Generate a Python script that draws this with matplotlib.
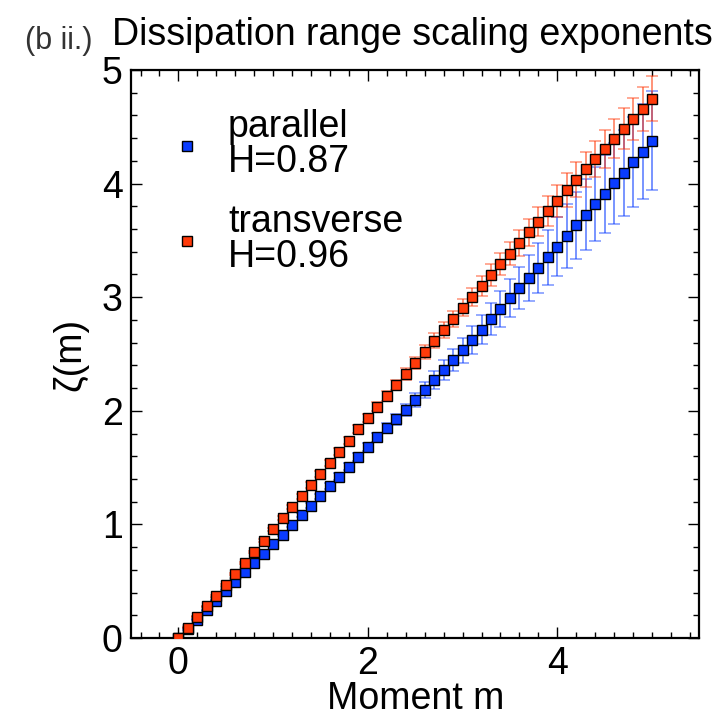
import matplotlib
matplotlib.use('Agg')
import matplotlib.pyplot as plt
from matplotlib.ticker import MultipleLocator

plt.rcParams['font.family'] = ['Liberation Sans', 'DejaVu Sans']

# moments m = 0.0 ... 5.0
moment = [0.0, 0.1, 0.2, 0.3, 0.4, 0.5, 0.6, 0.7, 0.8, 0.9,
          1.0, 1.1, 1.2, 1.3, 1.4, 1.5, 1.6, 1.7, 1.8, 1.9,
          2.0, 2.1, 2.2, 2.3, 2.4, 2.5, 2.6, 2.7, 2.8, 2.9,
          3.0, 3.1, 3.2, 3.3, 3.4, 3.5, 3.6, 3.7, 3.8, 3.9,
          4.0, 4.1, 4.2, 4.3, 4.4, 4.5, 4.6, 4.7, 4.8, 4.9, 5.0]

zeta_par = [0.000, 0.080, 0.160, 0.245, 0.330, 0.413, 0.496, 0.578, 0.660, 0.742,
            0.825, 0.910, 0.995, 1.080, 1.165, 1.250, 1.336, 1.422, 1.508, 1.596,
            1.684, 1.766, 1.846, 1.926, 2.008, 2.095, 2.183, 2.271, 2.359, 2.447,
            2.535, 2.624, 2.714, 2.805, 2.897, 2.990, 3.080, 3.170, 3.260, 3.351,
            3.445, 3.539, 3.633, 3.726, 3.820, 3.908, 4.003, 4.096, 4.190, 4.281, 4.378]
err_par = [0.000, 0.005, 0.005, 0.006, 0.007, 0.008, 0.009, 0.010, 0.011, 0.012,
           0.013, 0.014, 0.016, 0.018, 0.020, 0.022, 0.025, 0.028, 0.031, 0.034,
           0.037, 0.041, 0.045, 0.050, 0.055, 0.061, 0.068, 0.076, 0.085, 0.095,
           0.110, 0.120, 0.130, 0.142, 0.155, 0.168, 0.182, 0.200, 0.220, 0.240,
           0.258, 0.278, 0.293, 0.310, 0.326, 0.340, 0.358, 0.378, 0.398, 0.416, 0.436]

zeta_tr = [0.000, 0.090, 0.188, 0.280, 0.372, 0.468, 0.563, 0.660, 0.758, 0.858,
           0.957, 1.055, 1.153, 1.250, 1.348, 1.445, 1.543, 1.640, 1.737, 1.837,
           1.940, 2.037, 2.130, 2.227, 2.324, 2.420, 2.520, 2.617, 2.711, 2.810,
           2.908, 3.004, 3.100, 3.195, 3.290, 3.384, 3.478, 3.571, 3.664, 3.759,
           3.850, 3.944, 4.034, 4.126, 4.217, 4.305, 4.393, 4.481, 4.569, 4.657, 4.745]
err_tr = [0.000, 0.004, 0.005, 0.006, 0.007, 0.008, 0.009, 0.010, 0.012, 0.014,
          0.016, 0.018, 0.020, 0.022, 0.024, 0.026, 0.028, 0.030, 0.032, 0.034,
          0.036, 0.040, 0.044, 0.048, 0.052, 0.056, 0.060, 0.064, 0.067, 0.071,
          0.075, 0.081, 0.087, 0.093, 0.099, 0.105, 0.112, 0.119, 0.126, 0.133,
          0.140, 0.146, 0.152, 0.156, 0.162, 0.167, 0.172, 0.180, 0.186, 0.192, 0.198]

labels = ['parallel\nH=0.87', 'transverse\nH=0.96']
blue = '#0a3cff'
red = '#ff3a0a'

fig = plt.figure(figsize=(7.24, 7.21), dpi=100)
ax = fig.add_axes([0.181, 0.115, 0.785, 0.788])

for z, e, c, lab in [(zeta_par, err_par, blue, labels[0]), (zeta_tr, err_tr, red, labels[1])]:
    ax.errorbar(moment, z, yerr=e, fmt='none', ecolor=c, elinewidth=1.4,
                capsize=4, capthick=1.1, alpha=0.55, zorder=2)
    ax.plot(moment, z, 's', color=c, markersize=7.5, markeredgecolor='black',
            markeredgewidth=1.0, linestyle='none', label=lab, zorder=3)

ax.set_xlim(-0.5, 5.5)
ax.set_ylim(0, 5)
ax.xaxis.set_major_locator(MultipleLocator(2))
ax.xaxis.set_minor_locator(MultipleLocator(0.2))
ax.yaxis.set_major_locator(MultipleLocator(1))
ax.yaxis.set_minor_locator(MultipleLocator(0.2))
ax.tick_params(which='both', direction='in', top=True, right=True, labelsize=27, width=1.0)
ax.tick_params(which='major', length=8, pad=6)
ax.tick_params(which='minor', length=4)
for s in ax.spines.values():
    s.set_linewidth(1.6)

ax.set_xlabel('Moment m', fontsize=27, labelpad=-1)
ax.set_ylabel('ζ(m)', fontsize=27, labelpad=10)

leg = ax.legend(loc='upper left', bbox_to_anchor=(0.022, 0.99), frameon=False, fontsize=27,
                handlelength=0.5, handletextpad=0.85, labelspacing=0.65, markerscale=0.9)
for t in leg.get_texts():
    t.set_linespacing(0.95)

fig.text(0.155, 0.951, 'Dissipation range scaling exponents', fontsize=27, va='center')
fig.text(0.035, 0.943, '(b ii.)', fontsize=22, va='center', color='#333333')

fig.savefig('out.png', dpi=100)
